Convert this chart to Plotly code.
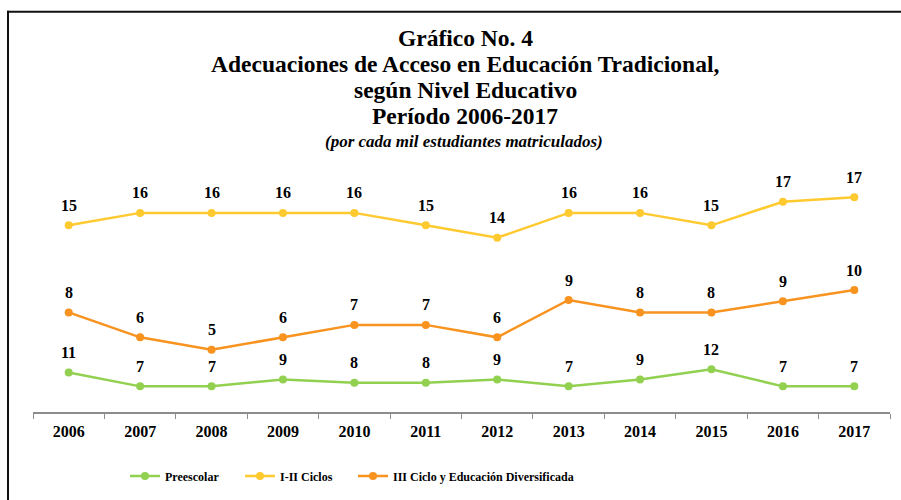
import plotly.graph_objects as go

# categories
years = ["2006", "2007", "2008", "2009", "2010", "2011",
         "2012", "2013", "2014", "2015", "2016", "2017"]

# plotted heights and the printed data labels
preescolar_y = [3.18, 2.06, 2.06, 2.62, 2.35, 2.35, 2.62, 2.06, 2.62, 3.44, 2.06, 2.06]
preescolar_lbl = [11, 7, 7, 9, 8, 8, 9, 7, 9, 12, 7, 7]

ciclos_y = [15, 16, 16, 16, 16, 15, 14, 16, 16, 15, 16.9, 17.25]
ciclos_lbl = [15, 16, 16, 16, 16, 15, 14, 16, 16, 15, 17, 17]

diversificada_y = [8, 6, 5, 6, 7, 7, 6, 9, 8, 8, 8.9, 9.8]
diversificada_lbl = [8, 6, 5, 6, 7, 7, 6, 9, 8, 8, 9, 10]

title_lines = [
    "Gráfico No. 4",
    "Adecuaciones de Acceso en Educación Tradicional,",
    "según Nivel Educativo",
    "Período 2006-2017",
]
subtitle = "(por cada mil estudiantes matriculados)"

FONT = "Liberation Serif"
W, H = 901, 500
ML, MR, MT, MB = 33, 11, 188, 87
PW, PH = W - ML - MR, H - MT - MB


def px_x(x):
    return (x - ML) / PW


def px_y(y):
    return (H - MB - y) / PH


series = [
    ("Preescolar", preescolar_y, preescolar_lbl, "#92D050", "legend", 125),
    ("I-II Ciclos", ciclos_y, ciclos_lbl, "#FFC930", "legend2", 240),
    ("III Ciclo y Educación Diversificada", diversificada_y, diversificada_lbl,
     "#F7931E", "legend3", 353),
]

legend_font = dict(family=FONT, size=12, color="black", weight="bold")

fig = go.Figure()
for name, ys, lbl, color, leg, leg_x in series:
    fig.add_trace(go.Scatter(
        x=years, y=ys, name=name, legend=leg,
        mode="lines+markers",
        line=dict(color=color, width=2.5),
        marker=dict(color=color, size=8),
        cliponaxis=False,
    ))
    # data labels sit ~20px above each point (category axis -> index positions)
    for i, (yv, t) in enumerate(zip(ys, lbl)):
        fig.add_annotation(x=i, y=yv, text=str(t), showarrow=False,
                           yshift=20, xanchor="center", yanchor="middle",
                           font=dict(family=FONT, size=16, color="black", weight="bold"))
    # one legend box per entry so the spacing can follow the original
    fig.update_layout({leg: dict(x=px_x(leg_x), y=px_y(476), xanchor="left",
                                 yanchor="middle", font=legend_font,
                                 itemwidth=30, bgcolor="rgba(0,0,0,0)")})

# title block
title_y = [37, 63, 90, 116]
for txt, yy in zip(title_lines, title_y):
    fig.add_annotation(text=txt, x=px_x(465), y=px_y(yy), xref="paper", yref="paper",
                       showarrow=False, xanchor="center", yanchor="middle",
                       font=dict(family=FONT, size=23.5, color="black", weight="bold"))
fig.add_annotation(text="<i>" + subtitle + "</i>", x=px_x(464), y=px_y(141),
                   xref="paper", yref="paper", showarrow=False,
                   xanchor="center", yanchor="middle",
                   font=dict(family=FONT, size=17, color="black", weight="bold"))

# outer frame (left and top edges)
fig.add_shape(type="line", xref="paper", yref="paper",
              x0=px_x(8), x1=px_x(8), y0=px_y(10), y1=px_y(H + 5),
              line=dict(color="#111111", width=2))
fig.add_shape(type="line", xref="paper", yref="paper",
              x0=px_x(7), x1=px_x(W + 5), y0=px_y(11), y1=px_y(11),
              line=dict(color="#111111", width=2))

fig.update_layout(
    width=W, height=H,
    margin=dict(l=ML, r=MR, t=MT, b=MB),
    plot_bgcolor="white", paper_bgcolor="white",
    font=dict(family=FONT, color="black"),
    showlegend=True,
    xaxis=dict(type="category", range=[-0.5, 11.5], showgrid=False,
               showline=True, linecolor="#8c8c8c", linewidth=1.5,
               ticks="outside", tickson="boundaries", ticklen=5,
               tickcolor="#8c8c8c", ticklabelstandoff=4,
               tickfont=dict(family=FONT, size=16, color="black", weight="bold")),
    yaxis=dict(range=[0, 18], visible=False, showgrid=False, zeroline=False),
)

# the page keeps the browser's default 8px body margin otherwise
fig.write_html("out.html", config={"displayModeBar": False},
               post_script="document.body.style.margin = '0';")
